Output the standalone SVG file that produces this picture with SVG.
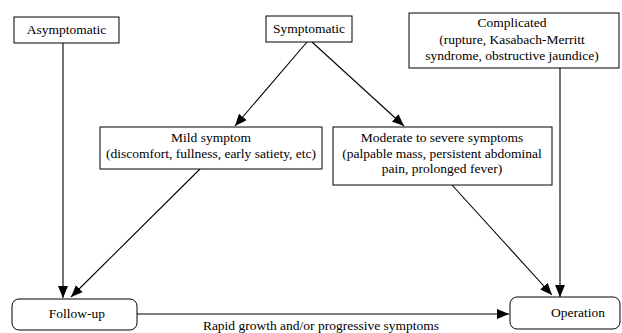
<svg xmlns="http://www.w3.org/2000/svg" width="622" height="333" viewBox="0 0 622 333" font-family="'Liberation Serif', 'DejaVu Serif', serif" font-size="13.5">
<style>
.box{fill:#fff;stroke:#000;stroke-width:1}
.t{font-family:'Liberation Serif','DejaVu Serif',serif;font-size:13.5px;fill:#000;text-anchor:middle}
.c{stroke:#000;stroke-width:1.1;fill:none;marker-end:url(#ah)}
</style>
<defs>
<marker id="ah" markerUnits="userSpaceOnUse" markerWidth="14" markerHeight="12" refX="12" refY="5" orient="auto">
<path d="M0,0 L12,5 L0,10 z" fill="#000"/>
</marker>
</defs>
<g id="connectors">
<line class="c" x1="63" y1="43" x2="63" y2="298"/>
<line class="c" x1="307" y1="42" x2="235" y2="126"/>
<line class="c" x1="312" y1="42" x2="404" y2="126"/>
<line class="c" x1="200" y1="169" x2="71" y2="297"/>
<line class="c" x1="452" y1="185" x2="552" y2="295"/>
<line class="c" x1="560" y1="68" x2="560" y2="297"/>
<line class="c" x1="137" y1="314" x2="509" y2="314"/>
<text class="t" x="321" y="330">Rapid growth and/or progressive symptoms</text>
</g>
<g id="asymptomatic">
<rect class="box" x="14" y="17" width="105" height="26"/>
<text class="t" x="66.5" y="34">Asymptomatic</text>
</g>
<g id="symptomatic">
<rect class="box" x="266" y="16" width="86" height="26"/>
<text class="t" x="309" y="33">Symptomatic</text>
</g>
<g id="complicated">
<rect class="box" x="409" y="13" width="210" height="55"/>
<text class="t" x="512" y="27">Complicated</text>
<text class="t" x="512" y="43.5">(rupture, Kasabach-Merritt</text>
<text class="t" x="512" y="60">syndrome, obstructive jaundice)</text>
</g>
<g id="mild">
<rect class="box" x="100" y="127" width="222" height="42"/>
<text class="t" x="211" y="142">Mild symptom</text>
<text class="t" x="211" y="158">(discomfort, fullness, early satiety, etc)</text>
</g>
<g id="moderate">
<rect class="box" x="333" y="127" width="219" height="58"/>
<text class="t" x="442" y="142">Moderate to severe symptoms</text>
<text class="t" x="442" y="157.5">(palpable mass, persistent abdominal</text>
<text class="t" x="442" y="173">pain, prolonged fever)</text>
</g>
<g id="followup">
<rect class="box" x="12" y="299" width="125" height="31" rx="7"/>
<text class="t" x="77" y="318">Follow-up</text>
</g>
<g id="operation">
<rect class="box" x="510" y="297" width="110" height="32" rx="7"/>
<text class="t" x="578" y="317">Operation</text>
</g>
</svg>
